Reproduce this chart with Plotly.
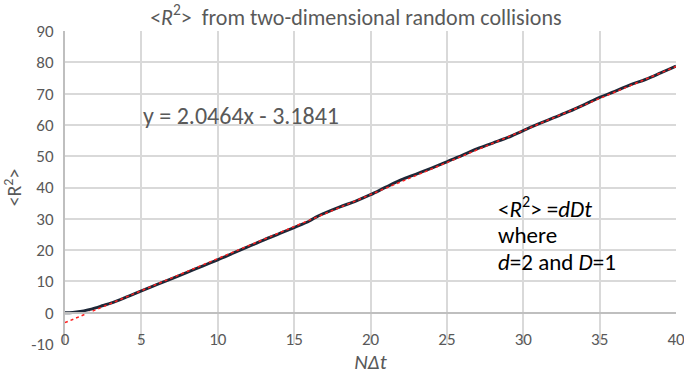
import plotly.graph_objects as go

# Data
n_dt = [0, 0.5, 1, 1.5, 2, 2.5, 3, 4, 5, 6, 7, 8, 9, 10, 11, 12, 13, 14, 15, 16,
        16.5, 17, 18, 19, 20, 21, 22, 23, 24, 25, 26, 27, 28, 29, 30, 31, 32, 33,
        34, 35, 36, 37, 38, 39, 40]
r2 = [0, 0.1, 0.4, 0.9, 1.55, 2.3, 3.05, 4.95, 7.0, 8.95, 10.9, 12.9, 14.9, 16.9,
      19.0, 21.1, 23.2, 25.2, 27.2, 29.3, 30.7, 31.8, 33.8, 35.6, 37.7, 40.1, 42.4,
      44.3, 46.2, 48.2, 50.3, 52.4, 54.2, 56.0, 58.2, 60.3, 62.3, 64.3, 66.5, 68.8,
      70.7, 72.8, 74.5, 76.6, 78.8]

# Linear trendline reported on the chart
slope = 2.0464
intercept = -3.1841
trend_x = [0, 40]

x_ticks = [0, 5, 10, 15, 20, 25, 30, 35, 40]
y_ticks = [-10, 0, 10, 20, 30, 40, 50, 60, 70, 80, 90]

FONT = "Carlito, Calibri, Lato, sans-serif"
GREY = "#595959"

fig = go.Figure()
fig.add_trace(go.Scatter(x=n_dt, y=r2, mode="lines",
                         line=dict(color="#1e2838", width=3, shape="spline"),
                         showlegend=False))
fig.add_trace(go.Scatter(x=trend_x, y=[slope * v + intercept for v in trend_x],
                         mode="lines", line=dict(color="#ff2020", width=1.5, dash="dot"),
                         showlegend=False))

fig.update_layout(
    width=684, height=375,
    margin=dict(l=65, r=8, t=31, b=31),
    paper_bgcolor="white", plot_bgcolor="white",
    font=dict(family=FONT, color=GREY),
    title=dict(text="&lt;<i>R</i><sup>2</sup>&gt;  from two-dimensional random collisions",
               x=0.476, xref="paper", xanchor="center", y=0.955, yanchor="middle",
               font=dict(size=22, color=GREY, family=FONT)),
    xaxis=dict(range=[0, 40], tickvals=x_ticks, ticktext=[str(v) for v in x_ticks],
               showgrid=True, gridcolor="#d9d9d9", gridwidth=1.5,
               anchor="free", position=0.1, automargin=False,
               showline=True, linecolor="#bfbfbf", linewidth=2,
               ticks="outside", ticklen=11, tickcolor="rgba(0,0,0,0)",
               ticklabeloverflow="allow",
               tickfont=dict(size=17, color=GREY, family=FONT),
               title=dict(text="<i>NΔt</i>", standoff=8,
                          font=dict(size=21, color=GREY, family=FONT)),
               zeroline=False),
    yaxis=dict(range=[-10, 90], tickvals=y_ticks, ticktext=[str(v) for v in y_ticks],
               showgrid=True, gridcolor="#d9d9d9", gridwidth=1.5,
               showline=True, linecolor="#bfbfbf", linewidth=2,
               zeroline=False, automargin=False,
               ticks="outside", ticklen=6, tickcolor="rgba(0,0,0,0)",
               tickfont=dict(size=17, color=GREY, family=FONT),
               title=dict(text="&lt;R<sup>2</sup>&gt;", standoff=6,
                          font=dict(size=20, color=GREY, family=FONT))),
)

fig.add_annotation(x=5.0, y=62.9, xref="x", yref="y", xanchor="left", yanchor="middle",
                   text="y = 2.0464x - 3.1841", showarrow=False,
                   font=dict(size=24, color=GREY, family=FONT))

lines = ["&lt;<i>R</i><sup>2</sup>&gt; =<i>dDt</i>", "where", "<i>d</i>=2 and <i>D</i>=1"]
line_y = [33.5, 24.7, 16.1]
for t, yy in zip(lines, line_y):
    fig.add_annotation(x=28.2, y=yy, xref="x", yref="y", xanchor="left", yanchor="middle",
                       text=t, showarrow=False,
                       font=dict(size=23, color="#000000", family=FONT))

fig.write_html("out.html")
